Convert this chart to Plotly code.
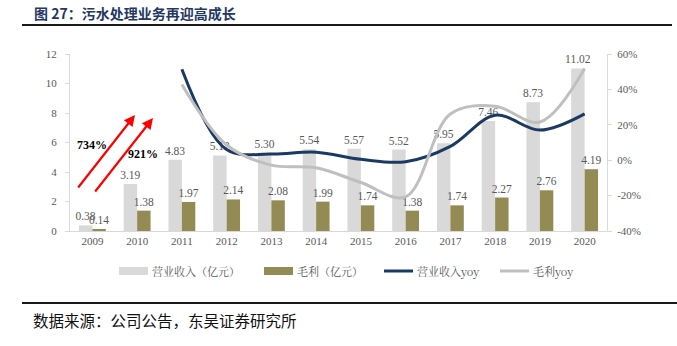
import plotly.graph_objects as go

# --- data ---
years = ["2009", "2010", "2011", "2012", "2013", "2014",
         "2015", "2016", "2017", "2018", "2019", "2020"]
revenue = [0.38, 3.19, 4.83, 5.12, 5.30, 5.54, 5.57, 5.52, 5.95, 7.46, 8.73, 11.02]
gross_profit = [0.14, 1.38, 1.97, 2.14, 2.08, 1.99, 1.74, 1.38, 1.74, 2.27, 2.76, 4.19]
revenue_yoy = [None, None, 51.4, 6.0, 3.5, 4.5, 0.5, -0.9, 7.8, 25.4, 17.0, 26.2]
profit_yoy = [None, None, 42.8, 8.6, -2.8, -4.3, -12.6, -20.7, 26.1, 30.5, 21.6, 51.8]
left_ticks = [0, 2, 4, 6, 8, 10, 12]
right_ticks = [-40, -20, 0, 20, 40, 60]
right_tick_text = ["-40%", "-20%", "0%", "20%", "40%", "60%"]

# --- style ---
W_PX, H_PX = 677, 346
L, R, T, B = 70, 70, 54, 115
PW, PH = W_PX - L - R, H_PX - T - B
C_BAR1 = "#D9D9D9"
C_BAR2 = "#948A54"
C_LINE1 = "#1B3A63"
C_LINE2 = "#BFBFBF"
C_TEXT = "#595959"
SERIF = "Liberation Serif, Times New Roman, serif"
CJK = "Noto Sans CJK SC, sans-serif"


def fx(px):
    return (px - L) / PW


def fy(py):
    return (H_PX - B - py) / PH


fig = go.Figure()

fig.add_trace(go.Bar(
    x=years, y=revenue, name="营业收入（亿元）",
    marker=dict(color=C_BAR1, line=dict(width=0)),
    texttemplate="%{y:.2f}", textposition="outside", constraintext="none",
    cliponaxis=False, textfont=dict(family=SERIF, size=11.5, color=C_TEXT),
    showlegend=False,
))
fig.add_trace(go.Bar(
    x=years, y=gross_profit, name="毛利（亿元）",
    marker=dict(color=C_BAR2, line=dict(width=0)),
    texttemplate="%{y:.2f}", textposition="outside", constraintext="none",
    cliponaxis=False, textfont=dict(family=SERIF, size=11.5, color=C_TEXT),
    showlegend=False,
))
fig.add_trace(go.Scatter(
    x=years, y=revenue_yoy, name="营业收入yoy", yaxis="y2", mode="lines",
    line=dict(color=C_LINE1, width=3, shape="spline", smoothing=1),
    showlegend=False,
))
fig.add_trace(go.Scatter(
    x=years, y=profit_yoy, name="毛利yoy", yaxis="y2", mode="lines",
    line=dict(color=C_LINE2, width=3, shape="spline", smoothing=1),
    showlegend=False,
))

annotations = [
    # title
    dict(text="<b>图 27：污水处理业务再迎高成长</b>", x=fx(32), y=fy(12.7),
         xanchor="left", yanchor="middle",
         font=dict(family=CJK, size=14, color="#1F3864")),
    # source
    dict(text="数据来源：公司公告，东吴证券研究所", x=fx(31), y=fy(320.5),
         xanchor="left", yanchor="middle",
         font=dict(family=CJK, size=15.5, color="#111111")),
    # growth arrows and labels
    dict(text="", x=fx(135), y=fy(115), ax=-58, ay=74, showarrow=True,
         arrowhead=2, arrowsize=1, arrowwidth=2.2, arrowcolor="#FF0000"),
    dict(text="", x=fx(153), y=fy(118), ax=-59, ay=75, showarrow=True,
         arrowhead=2, arrowsize=1, arrowwidth=2.2, arrowcolor="#FF0000"),
    dict(text="<b>734%</b>", x=fx(92), y=fy(145), xanchor="center", yanchor="middle",
         font=dict(family=SERIF, size=12, color="#000000")),
    dict(text="<b>921%</b>", x=fx(143), y=fy(154), xanchor="center", yanchor="middle",
         font=dict(family=SERIF, size=12, color="#000000")),
]

shapes = [
    dict(type="line", x0=fx(22), x1=fx(672), y0=fy(25), y1=fy(25),
         line=dict(color="#1A1A1A", width=2)),
    dict(type="line", x0=fx(22), x1=fx(677), y0=fy(303), y1=fy(303),
         line=dict(color="#1A1A1A", width=2)),
]

# legend entries
legend_y = 271
legend_items = [
    ("rect", C_BAR1, 119, 148, "营业收入（亿元）"),
    ("rect", C_BAR2, 264, 293, "毛利（亿元）"),
    ("line", C_LINE1, 384, 413, "营业收入yoy"),
    ("line", C_LINE2, 500, 529, "毛利yoy"),
]
for kind, color, x0, x1, label in legend_items:
    if kind == "rect":
        shapes.append(dict(type="rect", x0=fx(x0), x1=fx(x1),
                           y0=fy(legend_y + 4), y1=fy(legend_y - 4),
                           fillcolor=color, line=dict(width=0)))
    else:
        shapes.append(dict(type="line", x0=fx(x0), x1=fx(x1),
                           y0=fy(legend_y), y1=fy(legend_y),
                           line=dict(color=color, width=3)))
    annotations.append(dict(text=label, x=fx(x1 + 2), y=fy(legend_y),
                            xanchor="left", yanchor="middle",
                            font=dict(family="Noto Serif CJK SC, " + CJK, size=11, color=C_TEXT)))

for a in annotations:
    a.setdefault("xref", "paper")
    a.setdefault("yref", "paper")
    a.setdefault("showarrow", False)
for s in shapes:
    s["xref"] = "paper"
    s["yref"] = "paper"

fig.update_layout(
    width=W_PX, height=H_PX,
    margin=dict(l=L, r=R, t=T, b=B, pad=0),
    paper_bgcolor="white", plot_bgcolor="white",
    barmode="group", bargap=0.4, bargroupgap=0,
    xaxis=dict(
        type="category", showgrid=False, showline=True, linecolor="#D9D9D9",
        linewidth=1, ticks="", tickfont=dict(family=SERIF, size=11, color=C_TEXT),
    ),
    yaxis=dict(
        range=[0, 12], tickvals=left_ticks, showgrid=False, zeroline=False,
        showline=True, linecolor="#D9D9D9", linewidth=1,
        ticks="outside", ticklen=4, tickcolor="#D9D9D9", ticklabelstandoff=6,
        tickfont=dict(family=SERIF, size=11, color=C_TEXT),
    ),
    yaxis2=dict(
        overlaying="y", side="right", range=[-40, 60],
        tickmode="array", tickvals=right_ticks, ticktext=right_tick_text,
        showgrid=False, zeroline=False, showline=True, linecolor="#D9D9D9",
        linewidth=1, ticks="outside", ticklen=4, tickcolor="#D9D9D9",
        ticklabelstandoff=3, tickfont=dict(family=SERIF, size=11, color=C_TEXT),
    ),
    annotations=annotations,
    shapes=shapes,
)

fig.write_html("out.html")
